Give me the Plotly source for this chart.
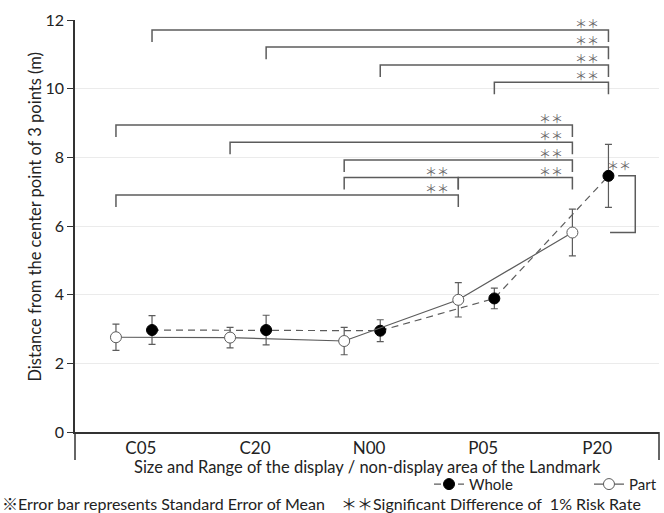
import plotly.graph_objects as go

# ---------------- data ----------------
categories = ["C05", "C20", "N00", "P05", "P20"]
whole_mean = [2.97, 2.97, 2.95, 3.89, 7.46]
whole_se = [0.42, 0.43, 0.32, 0.30, 0.92]
part_mean = [2.76, 2.75, 2.65, 3.85, 5.81]
part_se = [0.38, 0.30, 0.40, 0.50, 0.68]

# significance comparisons: (series_a, cat_a, series_b, cat_b)
sig_pairs = [
    ("whole", 0, "whole", 4),
    ("whole", 1, "whole", 4),
    ("whole", 2, "whole", 4),
    ("whole", 3, "whole", 4),
    ("part", 0, "part", 4),
    ("part", 1, "part", 4),
    ("part", 2, "part", 4),
    ("part", 3, "part", 4),
    ("part", 2, "part", 3),
    ("part", 0, "part", 3),
]
sig_label = "＊＊"

# ---------------- layout helpers (positions / styles) ----------------
bracket_levels = [11.71, 11.21, 10.69, 10.19, 8.94, 8.44, 7.92, 7.41, 7.41, 6.90]
OFFSET = 0.158          # horizontal offset of each series from category centre
DROP = 0.35             # bracket leg length (data units)
LINE_GREY = "#5c5c5c"
FONT = "Lato, 'Noto Sans CJK JP', sans-serif"
STAR_FONT = "'Noto Sans CJK JP', sans-serif"

idx = list(range(len(categories)))
x_whole = [i + OFFSET for i in idx]
x_part = [i - OFFSET for i in idx]
pos = {"whole": x_whole, "part": x_part}

fig = go.Figure()

# brackets
bx, by = [], []
annotations = []
ends_seen = set()
for (sa, ca, sb, cb), lvl in zip(sig_pairs, bracket_levels):
    x0 = pos[sa][ca]
    x1 = pos[sb][cb]
    if (round(x0, 3), lvl) in ends_seen:
        x0 += 0.03
    ends_seen.add((round(x1, 3), lvl))
    bx += [x0, x0, x1, x1, None]
    by += [lvl - DROP, lvl, lvl, lvl - DROP, None]
    annotations.append(dict(x=x1 - 0.19, y=lvl + 0.19, xref="x", yref="y",
                            xanchor="center", yanchor="middle",
                            text=sig_label, showarrow=False,
                            font=dict(family=STAR_FONT, size=12, color="#666")))

# whole vs part at P20 (side bracket)
k = len(categories) - 1
sx0 = x_whole[k] + 0.085
sx1 = x_whole[k] + 0.235
sx2 = x_whole[k] + 0.014
bx += [sx0, sx1, sx1, sx2, None]
by += [whole_mean[k], whole_mean[k], part_mean[k], part_mean[k], None]
annotations.append(dict(x=x_whole[k] + 0.096, y=whole_mean[k] + 0.29, xref="x", yref="y",
                        xanchor="center", yanchor="middle",
                        text=sig_label, showarrow=False,
                        font=dict(family=STAR_FONT, size=12, color="#666")))

fig.add_trace(go.Scatter(x=bx, y=by, mode="lines", line=dict(color=LINE_GREY, width=1.5),
                         hoverinfo="skip", showlegend=False))

fig.add_trace(go.Scatter(
    x=x_whole, y=whole_mean, name="Whole", mode="lines+markers", legend="legend",
    line=dict(color=LINE_GREY, width=1.2, dash="7px,5px"),
    marker=dict(symbol="circle", size=11, color="black", line=dict(color="black", width=1)),
    error_y=dict(type="data", array=whole_se, visible=True, color=LINE_GREY, thickness=1.2, width=3.5),
))
fig.add_trace(go.Scatter(
    x=x_part, y=part_mean, name="Part", mode="lines+markers", legend="legend2",
    line=dict(color=LINE_GREY, width=1.2),
    marker=dict(symbol="circle", size=11, color="white", line=dict(color=LINE_GREY, width=1)),
    error_y=dict(type="data", array=part_se, visible=True, color=LINE_GREY, thickness=1.2, width=3.5),
))

# axis titles & footnote
annotations.append(dict(x=-0.0685, y=0.523, xref="paper", yref="paper", textangle=-90,
                        xanchor="center", yanchor="middle",
                        text="Distance from the center point of 3 points (m)", showarrow=False,
                        font=dict(family=FONT, size=16.5, color="#222")))
annotations.append(dict(x=0.5, y=-0.085, xref="paper", yref="paper",
                        xanchor="center", yanchor="middle",
                        text="Size and Range of the display / non-display area of the Landmark",
                        showarrow=False, font=dict(family=FONT, size=16.5, color="#222")))
annotations.append(dict(x=-75 / 584, y=-0.174, xref="paper", yref="paper",
                        xanchor="left", yanchor="middle",
                        text="※Error bar represents Standard Error of Mean　＊＊Significant Difference of  1% Risk Rate",
                        showarrow=False, font=dict(family=FONT, size=16, color="#222")))

legend_common = dict(orientation="h", xanchor="left", y=-0.127, yanchor="middle",
                     font=dict(family=FONT, size=15, color="#222"), bgcolor="rgba(0,0,0,0)",
                     itemwidth=30)
fig.update_layout(
    width=664, height=513,
    margin=dict(l=75, r=5, t=20, b=81, autoexpand=False),
    paper_bgcolor="white", plot_bgcolor="white",
    font=dict(family=FONT, color="#222"),
    annotations=annotations,
    showlegend=True,
    legend=dict(x=0.6062, **legend_common),
    legend2=dict(x=0.8801, **legend_common),
    shapes=[
        dict(type="line", xref="paper", yref="paper", x0=0, x1=0, y0=0, y1=-0.068,
             line=dict(color="#333", width=1.5)),
        dict(type="line", xref="paper", yref="paper", x0=1, x1=1, y0=0, y1=-0.068,
             line=dict(color="#333", width=1.5)),
    ],
)
fig.update_xaxes(range=[-0.517, 4.601], tickvals=[i + 0.06 for i in idx], ticktext=categories,
                 showline=True, linecolor="#333", linewidth=1.5, ticks="", showgrid=False,
                 zeroline=False, tickfont=dict(family=FONT, size=17, color="#222"))
fig.update_yaxes(range=[0, 12], tickvals=list(range(0, 13, 2)), showline=True, linecolor="#333",
                 linewidth=1.5, ticks="outside", ticklen=6, tickcolor="#333", showgrid=True,
                 gridcolor="#ebebeb", zeroline=False, tickfont=dict(family=FONT, size=16, color="#222"))

fig.write_html("out.html", config={"displayModeBar": False},
               post_script="document.body.style.margin='0px';document.body.style.overflow='hidden';")
